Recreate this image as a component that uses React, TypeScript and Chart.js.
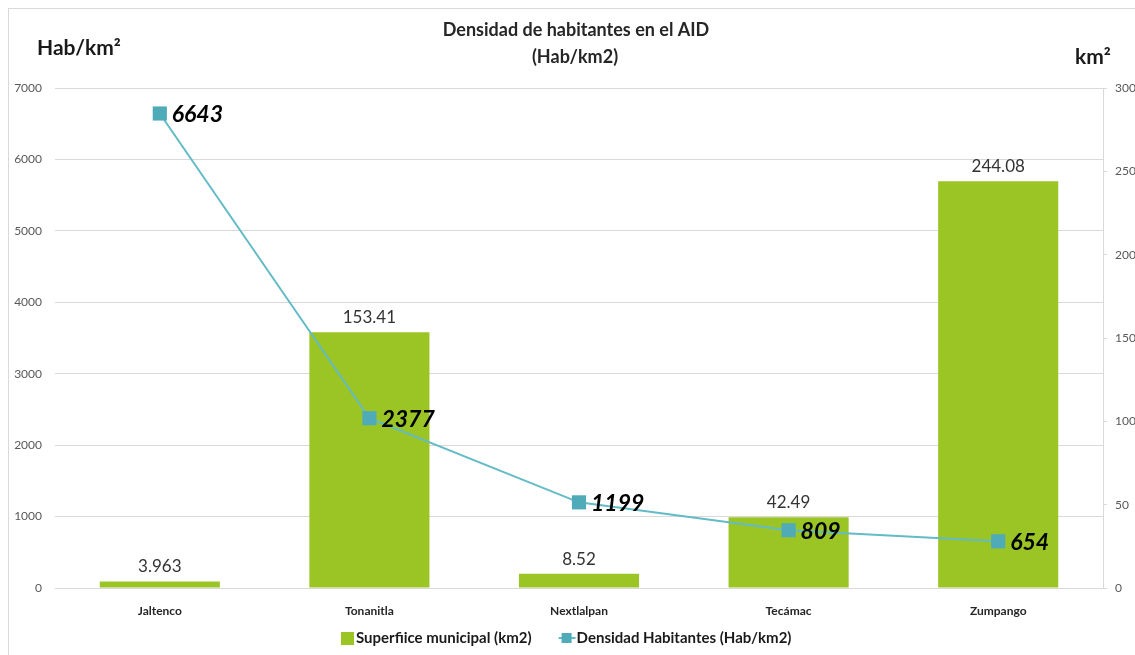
import React, { useEffect, useRef } from "react";
import { Chart, registerables } from "chart.js";

Chart.register(...registerables);

const categories = ["Jaltenco", "Tonanitla", "Nextlalpan", "Tecámac", "Zumpango"];
const superficie = [3.963, 153.41, 8.52, 42.49, 244.08];
const superficieLabels = ["3.963", "153.41", "8.52", "42.49", "244.08"];
const densidad = [6643, 2377, 1199, 809, 654];
const leftMax = 7000;
const leftStep = 1000;
const rightMax = 300;
const rightStep = 50;
const titleLines = ["Densidad de habitantes en el AID", "(Hab/km2)"];
const leftUnit = "Hab/km²";
const rightUnit = "km²";
const seriesNames = ["Superfiice municipal (km2)", "Densidad Habitantes (Hab/km2)"];

const FONT = "Lato, 'Open Sans', sans-serif";
const BAR_COLOR = "#9BC524";
const LINE_COLOR = "#63BBC6";
const POINT_COLOR = "#4EABB7";
const GRID = "#d9d9d9";

const decorPlugin = {
  id: "decor",
  beforeDraw(chart: any) {
    const ctx = chart.ctx as CanvasRenderingContext2D;
    ctx.save();
    ctx.fillStyle = "#ffffff";
    ctx.fillRect(0, 0, chart.width, chart.height);
    ctx.strokeStyle = GRID;
    ctx.lineWidth = 1;
    ctx.strokeRect(8.5, 8.5, chart.width + 20, chart.height + 20);
    ctx.restore();
  },
  afterDraw(chart: any) {
    const ctx = chart.ctx as CanvasRenderingContext2D;
    ctx.save();
    ctx.fillStyle = "#262626";
    ctx.textAlign = "center";
    ctx.textBaseline = "middle";
    ctx.font = `bold 18px ${FONT}`;
    ctx.fillText(titleLines[0], 576, 30);
    ctx.fillText(titleLines[1], 575, 57);
    ctx.font = `bold 21px ${FONT}`;
    ctx.textAlign = "left";
    ctx.fillStyle = "#1a1a1a";
    ctx.fillText(leftUnit, 37, 48);
    ctx.fillText(rightUnit, 1075, 57);

    // legend (series names and their markers)
    const meta0 = chart.getDatasetMeta(0);
    const meta1 = chart.getDatasetMeta(1);
    const hidden0 = !chart.isDatasetVisible(0);
    const hidden1 = !chart.isDatasetVisible(1);
    ctx.font = `bold 15px ${FONT}`;
    ctx.textBaseline = "middle";
    const w0 = ctx.measureText(seriesNames[0]).width;
    const w1 = ctx.measureText(seriesNames[1]).width;
    const box = 13;
    const iconW = 17;
    const gap = 27;
    const total = box + 2 + w0 + gap + iconW + 1 + w1;
    let x = Math.round(566 - total / 2);
    const y = 638;
    if (!hidden0 && meta0) {
      ctx.fillStyle = BAR_COLOR;
      ctx.fillRect(x, y - 6, box, box);
    }
    ctx.fillStyle = "#1a1a1a";
    ctx.fillText(seriesNames[0], x + box + 2, y);
    x += box + 2 + w0 + gap;
    if (!hidden1 && meta1) {
      ctx.strokeStyle = LINE_COLOR;
      ctx.lineWidth = 2;
      ctx.beginPath();
      ctx.moveTo(x, y);
      ctx.lineTo(x + iconW, y);
      ctx.stroke();
      ctx.fillStyle = POINT_COLOR;
      ctx.fillRect(x + 3, y - 5, 10, 10);
    }
    ctx.fillStyle = "#1a1a1a";
    ctx.fillText(seriesNames[1], x + iconW + 1, y);
    ctx.restore();
  },
};

const labelPlugin = {
  id: "valueLabels",
  afterDatasetsDraw(chart: any) {
    const ctx = chart.ctx as CanvasRenderingContext2D;
    ctx.save();
    const barMeta = chart.getDatasetMeta(0);
    ctx.font = `17px ${FONT}`;
    ctx.fillStyle = "#333333";
    ctx.textAlign = "center";
    ctx.textBaseline = "alphabetic";
    barMeta.data.forEach((el: any, i: number) => {
      ctx.fillText(superficieLabels[i], el.x, el.y - 9);
    });
    const lineMeta = chart.getDatasetMeta(1);
    ctx.font = `italic bold 23px ${FONT}`;
    ctx.fillStyle = "#000000";
    ctx.textAlign = "left";
    ctx.textBaseline = "middle";
    lineMeta.data.forEach((el: any, i: number) => {
      ctx.fillText(String(densidad[i]), el.x + 12, el.y + 1);
    });
    ctx.restore();
  },
};

export default function App() {
  const ref = useRef<HTMLCanvasElement | null>(null);

  useEffect(() => {
    if (!ref.current) return;
    const chart = new Chart(ref.current, {
      type: "bar",
      data: {
        labels: categories,
        datasets: [
          {
            type: "bar",
            label: seriesNames[0],
            data: superficie,
            yAxisID: "yR",
            backgroundColor: BAR_COLOR,
            borderWidth: 0,
            categoryPercentage: 1,
            barPercentage: 0.573,
            order: 2,
          } as any,
          {
            type: "line",
            label: seriesNames[1],
            data: densidad,
            yAxisID: "y",
            borderColor: LINE_COLOR,
            borderWidth: 2,
            pointStyle: "rect",
            pointRadius: 10,
            pointBackgroundColor: POINT_COLOR,
            pointBorderColor: POINT_COLOR,
            pointBorderWidth: 0,
            tension: 0,
            order: 1,
          } as any,
        ],
      },
      options: {
        responsive: false,
        animation: false,
        devicePixelRatio: 1,
        layout: { padding: { top: 88, left: 0, right: 0, bottom: 0 } },
        plugins: {
          title: { display: false },
          tooltip: { enabled: false },
          legend: { display: false },
        },
        scales: {
          x: {
            grid: { display: false, drawTicks: false },
            border: { display: false },
            ticks: {
              color: "#262626",
              font: { family: FONT, size: 12, weight: "bold" },
              padding: 16,
              maxRotation: 0,
            },
            afterFit: (scale: any) => {
              scale.height = 67;
            },
          },
          y: {
            position: "left",
            min: 0,
            max: leftMax,
            ticks: {
              stepSize: leftStep,
              color: "#595959",
              font: { family: FONT, size: 12 },
              padding: 13,
              callback: (v: any) => String(v),
            },
            grid: { color: GRID, drawTicks: false, lineWidth: 1 },
            border: { display: false },
            afterFit: (scale: any) => {
              scale.width = 55;
            },
          },
          yR: {
            position: "right",
            min: 0,
            max: rightMax,
            ticks: {
              stepSize: rightStep,
              color: "#595959",
              font: { family: FONT, size: 12 },
              padding: 8,
              callback: (v: any) => String(v),
            },
            grid: { drawOnChartArea: false, drawTicks: true, tickLength: 4, color: GRID },
            border: { display: true, color: GRID },
            afterFit: (scale: any) => {
              scale.width = 32;
            },
          },
        },
      } as any,
      plugins: [decorPlugin, labelPlugin],
    });
    return () => chart.destroy();
  }, []);

  return (
    <div style={{ position: "fixed", left: 0, top: 0, width: 1135, height: 655 }}>
      <canvas ref={ref} width={1135} height={655} />
    </div>
  );
}
